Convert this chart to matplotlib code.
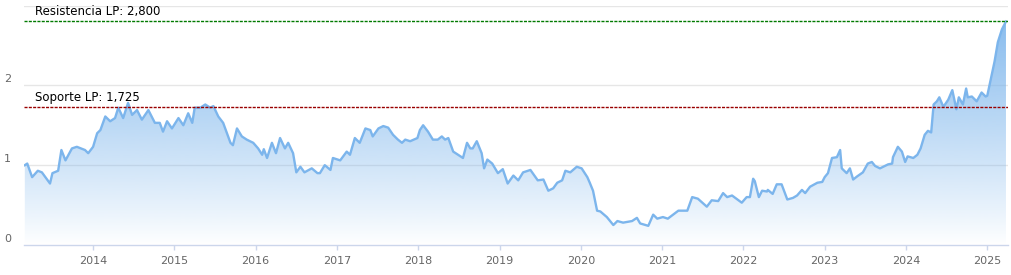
import numpy as np
import matplotlib
matplotlib.use("Agg")
import matplotlib.pyplot as plt
from matplotlib.transforms import blended_transform_factory

# decimal year, value
years = [2013.16, 2013.19, 2013.25, 2013.32, 2013.37, 2013.47, 2013.50, 2013.57, 2013.61, 2013.66,
         2013.74, 2013.80, 2013.90, 2013.94, 2014.00, 2014.05, 2014.09, 2014.15, 2014.21, 2014.27,
         2014.31, 2014.37, 2014.43, 2014.48, 2014.54, 2014.60, 2014.68, 2014.76, 2014.82, 2014.86,
         2014.91, 2014.97, 2015.05, 2015.11, 2015.17, 2015.22, 2015.25, 2015.32, 2015.38, 2015.44,
         2015.48, 2015.54, 2015.60, 2015.69, 2015.72, 2015.77, 2015.83, 2015.89, 2015.97, 2016.03,
         2016.08, 2016.10, 2016.14, 2016.20, 2016.25, 2016.30, 2016.36, 2016.40, 2016.46, 2016.50,
         2016.55, 2016.60, 2016.69, 2016.76, 2016.79, 2016.85, 2016.92, 2016.95, 2017.04, 2017.12,
         2017.16, 2017.22, 2017.28, 2017.35, 2017.41, 2017.44, 2017.51, 2017.57, 2017.63, 2017.69,
         2017.75, 2017.80, 2017.84, 2017.90, 2017.99, 2018.02, 2018.06, 2018.12, 2018.18, 2018.24,
         2018.29, 2018.33, 2018.37, 2018.43, 2018.49, 2018.55, 2018.60, 2018.64, 2018.67, 2018.72,
         2018.78, 2018.81, 2018.85, 2018.91, 2018.98, 2019.04, 2019.10, 2019.17, 2019.23, 2019.29,
         2019.38, 2019.47, 2019.54, 2019.60, 2019.66, 2019.71, 2019.77, 2019.81, 2019.87, 2019.95,
         2020.01, 2020.08, 2020.11, 2020.15, 2020.20, 2020.24, 2020.32, 2020.40, 2020.45, 2020.52,
         2020.63, 2020.69, 2020.73, 2020.83, 2020.89, 2020.94, 2021.01, 2021.07, 2021.20, 2021.31,
         2021.37, 2021.44, 2021.55, 2021.61, 2021.69, 2021.75, 2021.80, 2021.86, 2021.98, 2022.04,
         2022.08, 2022.12, 2022.14, 2022.19, 2022.23, 2022.29, 2022.30, 2022.36, 2022.41, 2022.47,
         2022.54, 2022.61, 2022.66, 2022.72, 2022.76, 2022.82, 2022.91, 2022.97, 2023.00, 2023.04,
         2023.09, 2023.15, 2023.19, 2023.21, 2023.27, 2023.31, 2023.35, 2023.40, 2023.47, 2023.53,
         2023.58, 2023.62, 2023.68, 2023.78, 2023.83, 2023.84, 2023.90, 2023.95, 2023.99, 2024.02,
         2024.09, 2024.14, 2024.18, 2024.23, 2024.27, 2024.31, 2024.34, 2024.38, 2024.41, 2024.46,
         2024.52, 2024.57, 2024.62, 2024.65, 2024.70, 2024.74, 2024.76, 2024.81, 2024.87, 2024.93,
         2024.98, 2025.00, 2025.05, 2025.09, 2025.13, 2025.18, 2025.19, 2025.23]
values = [1.00, 1.02, 0.85, 0.93, 0.91, 0.77, 0.90, 0.93, 1.19, 1.06,
          1.21, 1.23, 1.19, 1.15, 1.23, 1.40, 1.44, 1.61, 1.55, 1.59,
          1.72, 1.59, 1.78, 1.63, 1.69, 1.57, 1.69, 1.53, 1.53, 1.42,
          1.55, 1.46, 1.59, 1.50, 1.65, 1.53, 1.72, 1.72, 1.76, 1.72,
          1.74, 1.61, 1.53, 1.28, 1.25, 1.46, 1.36, 1.32, 1.28, 1.21,
          1.13, 1.20, 1.09, 1.28, 1.15, 1.34, 1.21, 1.28, 1.15, 0.91,
          0.98, 0.91, 0.96, 0.90, 0.90, 1.00, 0.94, 1.09, 1.06, 1.17,
          1.13, 1.34, 1.28, 1.46, 1.44, 1.36, 1.46, 1.49, 1.47, 1.38,
          1.32, 1.28, 1.32, 1.30, 1.34, 1.44, 1.50, 1.42, 1.32, 1.32,
          1.36, 1.32, 1.34, 1.17, 1.13, 1.09, 1.28, 1.21, 1.21, 1.30,
          1.15, 0.96, 1.07, 1.02, 0.90, 0.95, 0.77, 0.87, 0.81, 0.91,
          0.94, 0.81, 0.82, 0.68, 0.71, 0.78, 0.81, 0.93, 0.91, 0.98,
          0.96, 0.85, 0.78, 0.68, 0.43, 0.42, 0.35, 0.25, 0.30, 0.28,
          0.30, 0.34, 0.27, 0.24, 0.38, 0.33, 0.35, 0.33, 0.43, 0.43,
          0.60, 0.58, 0.48, 0.56, 0.55, 0.65, 0.60, 0.62, 0.53, 0.60,
          0.60, 0.83, 0.80, 0.60, 0.68, 0.67, 0.69, 0.64, 0.76, 0.76,
          0.57, 0.59, 0.62, 0.69, 0.65, 0.73, 0.78, 0.79, 0.85, 0.90,
          1.09, 1.10, 1.19, 0.96, 0.90, 0.96, 0.82, 0.86, 0.91, 1.02,
          1.04, 0.99, 0.96, 1.01, 1.02, 1.10, 1.23, 1.17, 1.04, 1.11,
          1.09, 1.13, 1.21, 1.38, 1.43, 1.41, 1.76, 1.80, 1.85, 1.73,
          1.82, 1.94, 1.70, 1.85, 1.76, 1.96, 1.85, 1.86, 1.80, 1.91,
          1.86, 1.87, 2.11, 2.30, 2.54, 2.70, 2.72, 2.80]

resistance = 2.800
support = 1.725
resistance_label = "Resistencia LP: 2,800"
support_label = "Soporte LP: 1,725"
year_ticks = list(range(2014, 2026))
y_ticks = [0, 1, 2, 3]

W, H = 1012, 275
px = 72 / 100  # one pixel in points

fig = plt.figure(figsize=(W / 100, H / 100), dpi=100)
ax = fig.add_axes([24 / W, 1 - 245 / H, (1008 - 24) / W, (245 - 5.5) / H])
ax.set_xlim(2013.15, 2025.255)
ax.set_ylim(0, 3)

for s in ["top", "right", "left"]:
    ax.spines[s].set_visible(False)
ax.spines["bottom"].set_color("#ccd6eb")
ax.spines["bottom"].set_linewidth(1)
ax.spines["bottom"].set_zorder(6)

# grid
for v in y_ticks[1:]:
    ax.axhline(v, color="#e6e6e6", lw=1, zorder=0)
ax.set_yticks([])

# gradient fill under the line: strong at top, fading to nothing at the bottom
rgba = np.zeros((256, 1, 4))
rgba[..., 0] = 124 / 255
rgba[..., 1] = 181 / 255
rgba[..., 2] = 236 / 255
rgba[:, 0, 3] = 0.95 * np.linspace(0, 1, 256) ** 0.9
poly = ax.fill_between(years, values, 0, color="none", lw=0)
img = ax.imshow(rgba, extent=[2013.15, 2025.255, 0, 3], aspect="auto",
                origin="lower", zorder=1, interpolation="bilinear")
img.set_clip_path(poly.get_paths()[0], transform=ax.transData)
ax.plot(years, values, color="#7cb5ec", lw=1.7, zorder=3, solid_joinstyle="round")

# support / resistance
ax.axhline(resistance, color="#007a00", lw=1, ls=(0, (2.2, 0.9)), zorder=4)
ax.axhline(support, color="#990000", lw=1, ls=(0, (2.2, 0.9)), zorder=4)
ax.text(2013.28, resistance + 0.04, resistance_label, fontsize=8.5, color="#000000",
        va="bottom", ha="left", zorder=5)
ax.text(2013.28, support + 0.04, support_label, fontsize=8.5, color="#000000",
        va="bottom", ha="left", zorder=5)

# x ticks
ax.set_xticks(year_ticks)
ax.set_xticklabels([str(y) for y in year_ticks], fontsize=8, color="#666666")
ax.tick_params(axis="x", length=5 * px, width=1, color="#ccd6eb", pad=4)

# y labels, left aligned above grid lines
tr = blended_transform_factory(fig.transFigure, ax.transData)
for v in y_ticks[:3]:
    ax.text(4 / W, v + 0.075, str(v), transform=tr, fontsize=8, color="#666666",
            ha="left", va="center")

fig.savefig("out.png", dpi=100)
